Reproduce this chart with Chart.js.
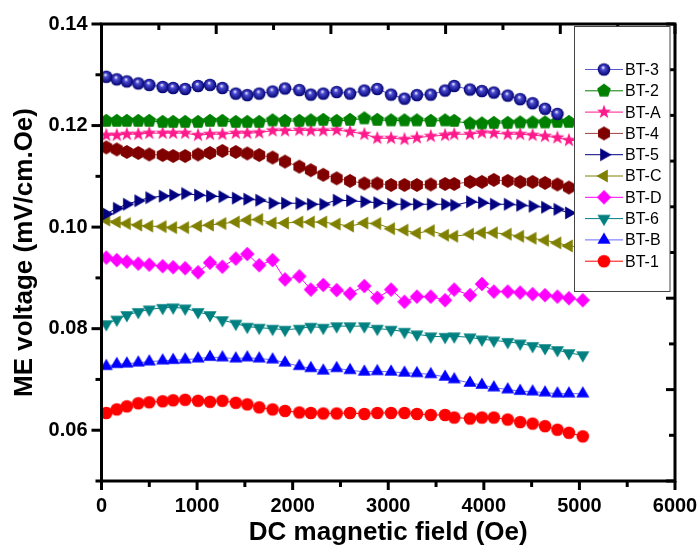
<!DOCTYPE html>
<html>
<head>
<meta charset="utf-8">
<script src="https://cdn.jsdelivr.net/npm/chart.js@4.4.1/dist/chart.umd.min.js"></script>
<style>
  html, body { margin: 0; padding: 0; background: #fff; }
</style>
</head>
<body>
<canvas id="chart" width="699" height="550"></canvas>
<script>
// DC field (Oe) of each measurement point
const fieldOe = [50, 160, 265, 385, 500, 640, 750, 875, 1010, 1135, 1265, 1405, 1525, 1650, 1790, 1920, 2070, 2190, 2320, 2460,
  2600, 2750, 2885, 3030, 3170, 3300, 3445, 3595, 3690, 3855, 3980, 4105, 4250, 4380, 4510, 4640, 4770, 4890, 5035];

// ME voltage (mV/cm.Oe) per sample
const bt3 = [0.1296, 0.1291, 0.1287, 0.1283, 0.1280, 0.1276, 0.1274, 0.1272, 0.1278, 0.1280, 0.1274, 0.1263, 0.1260, 0.1263, 0.1267, 0.1273, 0.1270, 0.1261, 0.1263, 0.1266,
  0.1263, 0.1269, 0.1272, 0.1261, 0.1253, 0.1260, 0.1261, 0.1269, 0.1278, 0.1271, 0.1268, 0.1265, 0.1259, 0.1252, 0.1244, 0.1233, 0.1223];
const bt2 = [0.1209, 0.1209, 0.1209, 0.1209, 0.1209, 0.1207, 0.1207, 0.1207, 0.1207, 0.1209, 0.1209, 0.1207, 0.1207, 0.1207, 0.1210, 0.1209, 0.1209, 0.1210, 0.1211, 0.1209,
  0.1211, 0.1214, 0.1211, 0.1210, 0.1210, 0.1210, 0.1209, 0.1210, 0.1209, 0.1204, 0.1204, 0.1205, 0.1205, 0.1206, 0.1206, 0.1206, 0.1207, 0.1207, 0.1207];
const btA = [0.1181, 0.1181, 0.1183, 0.1183, 0.1185, 0.1185, 0.1185, 0.1185, 0.1181, 0.1183, 0.1183, 0.1185, 0.1185, 0.1186, 0.1190, 0.1190, 0.1191, 0.1190, 0.1190, 0.1191,
  0.1188, 0.1183, 0.1175, 0.1175, 0.1173, 0.1176, 0.1179, 0.1181, 0.1183, 0.1183, 0.1186, 0.1185, 0.1183, 0.1183, 0.1181, 0.1179, 0.1176, 0.1171, 0.1170];
const bt4 = [0.1157, 0.1153, 0.1148, 0.1146, 0.1143, 0.1142, 0.1140, 0.1140, 0.1143, 0.1146, 0.1150, 0.1148, 0.1145, 0.1142, 0.1137, 0.1129, 0.1119, 0.1112, 0.1103, 0.1096,
  0.1091, 0.1086, 0.1086, 0.1083, 0.1083, 0.1083, 0.1084, 0.1085, 0.1085, 0.1089, 0.1089, 0.1093, 0.1091, 0.1089, 0.1089, 0.1087, 0.1084, 0.1078, 0.1076];
const bt5 = [0.1026, 0.1037, 0.1045, 0.1052, 0.1058, 0.1061, 0.1063, 0.1066, 0.1063, 0.1061, 0.1060, 0.1057, 0.1055, 0.1053, 0.1047, 0.1047, 0.1047, 0.1045, 0.1045, 0.1053,
  0.1052, 0.1050, 0.1048, 0.1045, 0.1045, 0.1045, 0.1045, 0.1045, 0.1043, 0.1050, 0.1048, 0.1045, 0.1045, 0.1043, 0.1041, 0.1039, 0.1035, 0.1028, 0.1026];
const btC = [0.1014, 0.1010, 0.1007, 0.1004, 0.1002, 0.1001, 0.0999, 0.0999, 0.1002, 0.1004, 0.1007, 0.1010, 0.1014, 0.1015, 0.1008, 0.1008, 0.1010, 0.1010, 0.1010, 0.1006,
  0.1002, 0.1008, 0.1007, 0.0997, 0.0994, 0.0988, 0.0993, 0.0984, 0.0982, 0.0986, 0.0989, 0.0989, 0.0986, 0.0982, 0.0978, 0.0974, 0.0969, 0.0963, 0.0960];
const btD = [0.0940, 0.0935, 0.0932, 0.0928, 0.0926, 0.0923, 0.0921, 0.0919, 0.0911, 0.0930, 0.0922, 0.0938, 0.0947, 0.0925, 0.0935, 0.0897, 0.0903, 0.0877, 0.0886, 0.0876,
  0.0869, 0.0884, 0.0861, 0.0877, 0.0853, 0.0863, 0.0863, 0.0856, 0.0877, 0.0866, 0.0888, 0.0873, 0.0873, 0.0871, 0.0868, 0.0866, 0.0863, 0.0860, 0.0856];
const bt6 = [0.0809, 0.0818, 0.0827, 0.0833, 0.0838, 0.0841, 0.0842, 0.0840, 0.0833, 0.0827, 0.0817, 0.0810, 0.0804, 0.0802, 0.0800, 0.0798, 0.0800, 0.0804, 0.0802, 0.0805,
  0.0805, 0.0805, 0.0800, 0.0798, 0.0794, 0.0789, 0.0785, 0.0784, 0.0785, 0.0783, 0.0779, 0.0777, 0.0774, 0.0771, 0.0766, 0.0762, 0.0758, 0.0752, 0.0748];
const btB = [0.0726, 0.0730, 0.0731, 0.0733, 0.0735, 0.0737, 0.0738, 0.0739, 0.0741, 0.0744, 0.0743, 0.0741, 0.0743, 0.0741, 0.0739, 0.0733, 0.0726, 0.0722, 0.0717, 0.0722,
  0.0718, 0.0715, 0.0716, 0.0715, 0.0713, 0.0712, 0.0710, 0.0705, 0.0700, 0.0693, 0.0689, 0.0684, 0.0680, 0.0677, 0.0676, 0.0674, 0.0672, 0.0672, 0.0672];
const bt1 = [0.0634, 0.0641, 0.0647, 0.0653, 0.0655, 0.0657, 0.0659, 0.0660, 0.0658, 0.0656, 0.0658, 0.0654, 0.0651, 0.0645, 0.0641, 0.0638, 0.0635, 0.0634, 0.0633, 0.0633,
  0.0634, 0.0632, 0.0634, 0.0634, 0.0634, 0.0632, 0.0630, 0.0630, 0.0625, 0.0623, 0.0625, 0.0625, 0.0621, 0.0616, 0.0613, 0.0608, 0.0601, 0.0595, 0.0588];

const seriesLabels = ['BT-3', 'BT-2', 'BT-A', 'BT-4', 'BT-5', 'BT-C', 'BT-D', 'BT-6', 'BT-B', 'BT-1'];
const seriesValues = [bt3, bt2, btA, bt4, bt5, btC, btD, bt6, btB, bt1];
const markerColors = ['#10109a', '#008000', '#ff1a8c', '#800000', '#000080', '#808000', '#ff00ff', '#008080', '#0000ff', '#ff0000'];
const lineColors = ['#5a5ac8', '#008000', '#ff1a8c', '#a04040', '#000080', '#808000', '#ff00ff', '#008080', '#6a6aff', '#ff0000'];
const markerShapes = ['sphere', 'pentagon', 'star', 'hexagon', 'triRight', 'triLeft', 'diamond', 'triDown', 'triUp', 'circle'];

// small canvases used as point styles
function makeMarker(shape, color) {
  const S = 18, c = S / 2;
  const cv = document.createElement('canvas');
  cv.width = S; cv.height = S;
  const g = cv.getContext('2d');
  g.fillStyle = color;
  const poly = (n, r, rot) => {
    g.beginPath();
    for (let i = 0; i < n; i++) {
      const a = rot + i * 2 * Math.PI / n;
      g.lineTo(c + r * Math.cos(a), c + r * Math.sin(a));
    }
    g.closePath(); g.fill();
  };
  if (shape === 'sphere') {
    const grad = g.createRadialGradient(c - 1, c - 2.2, 0.3, c, c, 6.3);
    grad.addColorStop(0, '#f0f0ff');
    grad.addColorStop(0.3, '#4a4ad0');
    grad.addColorStop(1, '#000070');
    g.fillStyle = grad;
    g.beginPath(); g.arc(c, c, 6.3, 0, Math.PI * 2); g.fill();
  } else if (shape === 'circle') {
    g.beginPath(); g.arc(c, c, 6.3, 0, Math.PI * 2); g.fill();
  } else if (shape === 'pentagon') {
    poly(5, 7.2, -Math.PI / 2);
  } else if (shape === 'hexagon') {
    poly(6, 6.9, -Math.PI / 2);
  } else if (shape === 'star') {
    g.beginPath();
    for (let i = 0; i < 10; i++) {
      const r = i % 2 === 0 ? 7.4 : 3.0;
      const a = -Math.PI / 2 + i * Math.PI / 5;
      g.lineTo(c + r * Math.cos(a), c + r * Math.sin(a));
    }
    g.closePath(); g.fill();
  } else if (shape === 'diamond') {
    poly(4, 7.2, -Math.PI / 2);
  } else if (shape === 'triUp') {
    poly(3, 7.6, -Math.PI / 2);
  } else if (shape === 'triDown') {
    poly(3, 7.6, Math.PI / 2);
  } else if (shape === 'triRight') {
    poly(3, 7.6, 0);
  } else if (shape === 'triLeft') {
    poly(3, 7.6, Math.PI);
  }
  return cv;
}

const markers = markerShapes.map((s, i) => makeMarker(s, markerColors[i]));

const datasets = seriesLabels.map((label, i) => ({
  label: label,
  data: seriesValues[i].map((v, j) => ({ x: fieldOe[j], y: v })),
  borderColor: lineColors[i],
  backgroundColor: markerColors[i],
  borderWidth: 1,
  pointStyle: markers[i],
  pointRadius: 6,
  fill: false,
  tension: 0
}));

// frame, Origin-like ticks and the boxed legend
const framePlugin = {
  id: 'framePlugin',
  afterDatasetsDraw(chart) {
    const ctx = chart.ctx;
    const a = chart.chartArea;
    const { x, y, x2, y2 } = chart.scales;
    ctx.save();
    ctx.strokeStyle = '#000';
    const tick = (x1, y1, xe, ye, w) => {
      ctx.lineWidth = w;
      ctx.beginPath(); ctx.moveTo(x1, y1); ctx.lineTo(xe, ye); ctx.stroke();
    };
    x.ticks.forEach(t => {
      const p = x.getPixelForValue(t.value);
      const major = Math.round(t.value) % 1000 === 0;
      tick(p, a.bottom, p, a.bottom + (major ? 9 : 6), 3);
    });
    x2.ticks.forEach(t => {
      const p = x2.getPixelForValue(t.value);
      const major = Math.round(t.value) % 1000 === 0;
      tick(p, a.top, p, a.top + (major ? 10 : 6), 3);
    });
    y.ticks.forEach(t => {
      const p = y.getPixelForValue(t.value);
      const major = Math.round(t.value * 100) % 2 === 0;
      tick(a.left, p, a.left - (major ? 10 : 6), p, 3);
    });
    y2.ticks.forEach(t => {
      const p = y2.getPixelForValue(t.value);
      const major = Math.round(t.value * 100) % 2 === 0;
      tick(a.right, p, a.right - (major ? 9 : 6), p, 3);
    });
    ctx.lineWidth = 3;
    ctx.strokeRect(a.left, a.top, a.right - a.left, a.bottom - a.top);

    // legend box
    const lx = 574.5, ly = 26.5, lw = 95.5, lh = 265;
    ctx.fillStyle = '#fff';
    ctx.fillRect(lx, ly, lw, lh);
    ctx.lineWidth = 1;
    ctx.strokeStyle = '#444';
    ctx.strokeRect(lx, ly, lw, lh);
    ctx.font = '16px "Liberation Sans", Arial, sans-serif';
    ctx.textBaseline = 'middle';
    ctx.textAlign = 'left';
    seriesLabels.forEach((label, i) => {
      const yy = 69.5 + i * 21.3;
      ctx.strokeStyle = lineColors[i];
      ctx.lineWidth = 1;
      ctx.beginPath(); ctx.moveTo(585, yy); ctx.lineTo(623, yy); ctx.stroke();
      const m = markers[i];
      ctx.drawImage(m, 604 - m.width / 2, yy - m.height / 2);
      ctx.fillStyle = '#000';
      ctx.fillText(label, 625, yy + 1);
    });
    ctx.restore();
  }
};

const tickFont = { family: '"Liberation Sans", Arial, sans-serif', size: 20, weight: 'bold' };
const titleFont = { family: '"Liberation Sans", Arial, sans-serif', size: 26, weight: 'bold' };

new Chart(document.getElementById('chart'), {
  type: 'line',
  data: { datasets: datasets },
  plugins: [framePlugin],
  options: {
    responsive: false,
    animation: false,
    layout: { padding: { left: 0, top: 24, right: 24, bottom: 0 } },
    plugins: { legend: { display: false }, tooltip: { enabled: false } },
    scales: {
      x: {
        type: 'linear', position: 'bottom', min: 0, max: 6000,
        grid: { display: false, drawTicks: false },
        border: { display: false },
        ticks: {
          stepSize: 500, autoSkip: false, maxRotation: 0, padding: 13,
          color: '#000', font: tickFont,
          callback: v => (Math.round(v) % 1000 === 0 ? String(Math.round(v)) : '')
        },
        title: { display: true, text: 'DC magnetic field (Oe)', color: '#000', font: titleFont, padding: { top: 0, bottom: 2 } },
        afterFit: s => { s.height = 69; s.paddingLeft = 0; s.paddingRight = 0; }
      },
      x2: {
        type: 'linear', position: 'top', min: 0, max: 5000, display: false,
        ticks: { stepSize: 500 }
      },
      y: {
        type: 'linear', position: 'left', min: 0.05, max: 0.14,
        grid: { display: false, drawTicks: false },
        border: { display: false },
        ticks: {
          stepSize: 0.01, autoSkip: false, padding: 14,
          color: '#000', font: tickFont,
          callback: v => { const h = Math.round(v * 100); return h % 2 === 0 ? (h / 100).toFixed(2) : ''; }
        },
        title: { display: true, text: 'ME voltage (mV/cm.Oe)', color: '#000', font: titleFont, padding: { top: 9, bottom: 0 } },
        afterFit: s => { s.width = 101.5; s.paddingTop = 0; s.paddingBottom = 0; }
      },
      y2: {
        type: 'linear', position: 'right', min: 0.04, max: 0.14, display: false,
        ticks: { stepSize: 0.01 }
      }
    }
  }
});
</script>
</body>
</html>
